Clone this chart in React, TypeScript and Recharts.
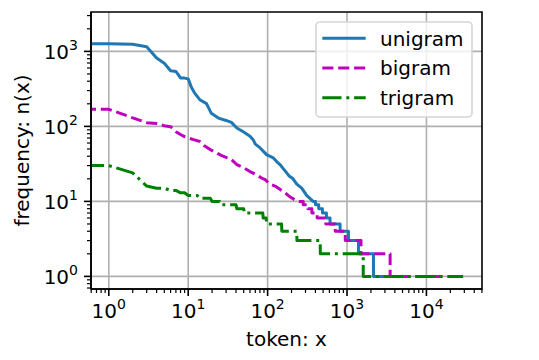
import React from 'react';
import { LineChart, Line, XAxis, YAxis, CartesianGrid, ReferenceArea, Legend } from 'recharts';

const FONT = '"DejaVu Sans", "Liberation Sans", sans-serif';

// log axes, view limits as in the source figure
const xDomain: [number, number] = [0.597, 50100];
const yDomain: [number, number] = [0.679, 3350];

const xMajorTicks = [1, 10, 100, 1000, 10000];
const yMajorTicks = [1, 10, 100, 1000];

// (token rank, frequency); first point sits left of the view
const unigram: [number, number][] = [
  [0.5, 1267], [1, 1267], [2, 1245], [3, 1155], [4, 816], [5, 695], [6, 552], [7, 541],
  [8, 443], [9, 440], [10, 430], [11, 330], [12, 280], [14, 227], [17, 201], [19.5, 150],
  [24, 129], [30, 120], [35, 113], [41, 95], [50, 84], [60, 74], [66, 66], [70, 58],
  [80, 52], [97, 42], [118, 38], [130, 34], [143, 31], [174, 24], [185, 22], [209, 20],
  [233, 17], [269, 15], [310, 12], [374, 10], [400, 10], [401, 9], [440, 9], [441, 8],
  [490, 8], [491, 7], [550, 7], [551, 6], [611, 6], [612, 5], [818, 5], [819, 4],
  [1042, 4], [1043, 3], [1393, 3], [1394, 2], [2153, 2], [2154, 1], [4580, 1],
];

const bigram: [number, number][] = [
  [0.5, 169], [1, 169], [2, 130], [3, 112], [4, 109], [5, 102], [6, 99], [7, 85],
  [8, 78], [9, 73], [10, 70], [12, 66], [14, 63], [16, 55], [19, 49], [22, 45],
  [26, 41], [31, 38], [34, 37], [41, 31], [50, 28], [60, 25], [70, 23], [84, 20.5],
  [93, 19.5], [107, 17], [124, 16], [143, 14.5], [166, 13], [191, 11.5], [220, 10.5],
  [240, 10], [280, 10], [281, 9], [320, 9], [321, 8], [360, 8], [361, 7], [420, 7],
  [421, 6], [540, 6], [541, 5], [710, 5], [711, 4], [950, 4], [951, 3], [1500, 3],
  [1501, 2], [3490, 2], [3491, 1], [16300, 1],
];

const trigram: [number, number][] = [
  [0.5, 30], [1, 30], [2, 24], [3, 16], [4, 15], [5, 15], [6, 14], [7, 14], [8, 13],
  [9, 13], [10, 12], [13, 12], [14, 11], [19, 11], [20, 10], [25, 10], [26, 9],
  [40, 9], [41, 8], [50, 8], [51, 7], [87, 7], [88, 6], [96, 6], [97, 5], [150, 5],
  [151, 4], [233, 4], [234, 3], [460, 3], [461, 2], [1600, 2], [1601, 1], [29000, 1],
];

const toRows = (pts: [number, number][]) => pts.map(([x, y]) => ({ x, y }));

const series = [
  { name: 'unigram', data: toRows(unigram), color: '#1f77b4', dash: undefined as string | undefined },
  { name: 'bigram', data: toRows(bigram), color: '#bf00bf', dash: '11.1 4.8' },
  { name: 'trigram', data: toRows(trigram), color: '#008000', dash: '19.2 4.8 3 4.8' },
];

// minor ticks 2..9 x 10^k inside the view
function minorTicks(lo: number, hi: number) {
  const out: number[] = [];
  for (let e = Math.floor(Math.log10(lo)); e <= Math.ceil(Math.log10(hi)); e++) {
    for (let m = 2; m <= 9; m++) {
      const v = m * Math.pow(10, e);
      if (v >= lo && v <= hi) out.push(v);
    }
  }
  return out;
}

const xTicks = [...xMajorTicks, ...minorTicks(xDomain[0], xDomain[1])];
const yTicks = [...yMajorTicks, ...minorTicks(yDomain[0], yDomain[1])];

function XTick(props: any) {
  const { x, y, payload } = props;
  const v = payload.value;
  if (!xMajorTicks.includes(v)) {
    return <line x1={x} y1={y} x2={x} y2={y + 4} stroke="#000" strokeWidth={1.2} />;
  }
  const exp = Math.round(Math.log10(v));
  return (
    <g>
      <line x1={x} y1={y} x2={x} y2={y + 7} stroke="#000" strokeWidth={1.6} />
      <text x={x} y={y + 29} textAnchor="middle" fontFamily={FONT} fontSize={20} fill="#000">
        10<tspan dy={-9} fontSize={14}>{exp}</tspan>
      </text>
    </g>
  );
}

function YTick(props: any) {
  const { x, y, payload } = props;
  const v = payload.value;
  if (!yMajorTicks.includes(v)) {
    return <line x1={x - 4} y1={y} x2={x} y2={y} stroke="#000" strokeWidth={1.2} />;
  }
  const exp = Math.round(Math.log10(v));
  return (
    <g>
      <line x1={x - 7} y1={y} x2={x} y2={y} stroke="#000" strokeWidth={1.6} />
      <text x={x - 13} y={y + 8} textAnchor="end" fontFamily={FONT} fontSize={20} fill="#000">
        10<tspan dy={-9} fontSize={14}>{exp}</tspan>
      </text>
    </g>
  );
}

function renderLegend() {
  return (
    <svg width={158} height={97} style={{ display: 'block' }}>
      <rect x={1} y={1} width={156} height={95} rx={4} fill="#fff" fillOpacity={0.8} stroke="#d5d5d5" strokeWidth={1.6} />
      {series.map((s, i) => {
        const cy = 17.3 + i * 29.7;
        return (
          <g key={s.name}>
            <line x1={7.3} y1={cy} x2={50.7} y2={cy} stroke={s.color} strokeWidth={3} strokeDasharray={s.dash} />
            <text x={65} y={cy + 7.2} fontFamily={FONT} fontSize={20} fill="#000">{s.name}</text>
          </g>
        );
      })}
    </svg>
  );
}

export default function App() {
  return (
    <div style={{ position: 'absolute', left: 0, top: 0, width: 539, height: 360, background: '#fff' }}>
      <LineChart width={539} height={360} margin={{ top: 12, right: 57, bottom: 0, left: 0 }}>
        <CartesianGrid stroke="#b0b0b0" strokeWidth={1.6} verticalValues={xMajorTicks} horizontalValues={yMajorTicks} />
        <XAxis
          dataKey="x"
          type="number"
          scale="log"
          domain={xDomain}
          allowDataOverflow
          ticks={xTicks}
          interval={0}
          tick={<XTick />}
          tickLine={false}
          tickSize={0}
          tickMargin={0}
          height={71}
          axisLine={{ stroke: '#000', strokeWidth: 1.6 }}
          label={(p: any) => {
            const vb = p.viewBox || { x: 91, y: 289, width: 391 };
            return (
              <text x={vb.x + vb.width / 2} y={vb.y + 57} textAnchor="middle" fontFamily={FONT} fontSize={20} fill="#000">
                token: x
              </text>
            );
          }}
        />
        <YAxis
          type="number"
          scale="log"
          domain={yDomain}
          allowDataOverflow
          ticks={yTicks}
          interval={0}
          tick={<YTick />}
          tickLine={false}
          tickSize={0}
          tickMargin={0}
          width={91}
          axisLine={{ stroke: '#000', strokeWidth: 1.6 }}
          label={(p: any) => {
            const vb = p.viewBox || { x: 0, y: 12, height: 277 };
            const cy = vb.y + vb.height / 2;
            return (
              <text x={29} y={cy} transform={`rotate(-90, 29, ${cy})`} textAnchor="middle" fontFamily={FONT} fontSize={20} fill="#000">
                frequency: n(x)
              </text>
            );
          }}
        />
        {series.map((s) => (
          <Line
            key={s.name}
            name={s.name}
            data={s.data}
            dataKey="y"
            type="linear"
            stroke={s.color}
            strokeWidth={3}
            strokeDasharray={s.dash}
            strokeLinejoin="round"
            dot={false}
            activeDot={false}
            isAnimationActive={false}
          />
        ))}
        <ReferenceArea
          x1={xDomain[0]}
          x2={xDomain[1]}
          y1={yDomain[0]}
          y2={yDomain[1]}
          fill="none"
          stroke="#000"
          strokeWidth={1.6}
          ifOverflow="visible"
        />
        <Legend
          layout="vertical"
          verticalAlign="middle"
          align="center"
          wrapperStyle={{ position: 'absolute', left: 315, top: 21, width: 158, height: 97 }}
          content={renderLegend}
        />
      </LineChart>
    </div>
  );
}
